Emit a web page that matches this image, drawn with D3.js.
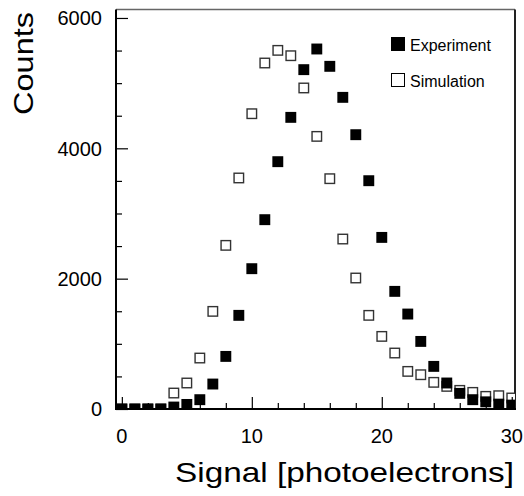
<!DOCTYPE html>
<html>
<head>
<meta charset="utf-8">
<script src="https://cdn.jsdelivr.net/npm/d3@7"></script>
<style>
  body { margin: 0; background: #fff; }
  text { font-family: "Liberation Sans", Arial, sans-serif; fill: #000; }
</style>
</head>
<body>
<svg id="chart"></svg>
<script>
// signal bins 0..30 photoelectrons
const bins = d3.range(0, 31);
const experiment = [0, 0, 0, 0, 30, 70, 143, 383, 807, 1437, 2153, 2905, 3795, 4475, 5207, 5524,
  5258, 4782, 4209, 3503, 2633, 1805, 1457, 1037, 654, 399, 240, 143, 110, 75, 60];
const simulation = [0, 0, 0, 0, 245, 399, 782, 1498, 2511, 3545, 4531, 5309, 5503, 5421, 4926, 4183,
  3534, 2608, 2010, 1437, 1114, 859, 577, 526, 409, 347, 286, 255, 194, 204, 169];
const yMajor = [0, 2000, 4000, 6000];
const xMajor = [0, 10, 20, 30];
const legendLabels = ["Experiment", "Simulation"];

const width = 524, height = 496;
const margin = { top: 9.5, right: 9, bottom: 87, left: 116 };

const svg = d3.select("#chart").attr("width", width).attr("height", height);

const x = d3.scaleLinear().domain([-0.45, 30.25]).range([margin.left, width - margin.right]);
const y = d3.scaleLinear().domain([0, 6130]).range([height - margin.bottom, margin.top]);

const plotW = x.range()[1] - x.range()[0];
const plotH = y.range()[0] - y.range()[1];

svg.append("defs").append("clipPath").attr("id", "clip")
  .append("rect")
  .attr("x", x.range()[0]).attr("y", y.range()[1])
  .attr("width", plotW).attr("height", plotH);

// frame: top and right
svg.append("line")
  .attr("x1", x.range()[0]).attr("x2", x.range()[1])
  .attr("y1", y.range()[1]).attr("y2", y.range()[1])
  .attr("stroke", "#666").attr("stroke-width", 1.5);
svg.append("line")
  .attr("x1", x.range()[1]).attr("x2", x.range()[1])
  .attr("y1", y.range()[1]).attr("y2", y.range()[0])
  .attr("stroke", "#222").attr("stroke-width", 2);

// markers
const size = 9.5;
const marks = svg.append("g").attr("clip-path", "url(#clip)");

marks.selectAll(".sim")
  .data(bins)
  .join("rect")
  .attr("class", "sim")
  .attr("x", (d) => x(d) - size / 2)
  .attr("y", (d) => y(simulation[d]) - size / 2)
  .attr("width", size)
  .attr("height", size)
  .attr("fill", "#fff")
  .attr("stroke", "#333")
  .attr("stroke-width", 1.4);

marks.selectAll(".exp")
  .data(bins)
  .join("rect")
  .attr("class", "exp")
  .attr("x", (d) => x(d) - (size + 1.4) / 2)
  .attr("y", (d) => y(experiment[d]) - (size + 1.4) / 2)
  .attr("width", size + 1.4)
  .attr("height", size + 1.4)
  .attr("fill", "#000");

// y axis, ticks pointing into the plot
const yAxis = d3.axisRight(y)
  .tickValues(d3.range(0, 6001, 500))
  .tickSize(6)
  .tickFormat("");
const yAxisG = svg.append("g")
  .attr("transform", `translate(${x.range()[0]},0)`)
  .call(yAxis);
yAxisG.selectAll(".tick line")
  .attr("x2", (d) => (yMajor.includes(d) ? 12 : 6))
  .attr("stroke-width", 1.2);
yAxisG.select(".domain").remove();

svg.append("g").selectAll("text")
  .data(yMajor)
  .join("text")
  .attr("x", 102)
  .attr("y", (d) => y(d))
  .attr("dy", "0.36em")
  .attr("text-anchor", "end")
  .style("font-size", "20px")
  .text((d) => d);

// x axis, ticks pointing up
const xAxis = d3.axisTop(x)
  .tickValues(d3.range(0, 31, 2))
  .tickSize(6)
  .tickFormat("");
const xAxisG = svg.append("g")
  .attr("transform", `translate(0,${y.range()[0]})`)
  .call(xAxis);
xAxisG.selectAll(".tick line")
  .attr("y2", (d) => (xMajor.includes(d) ? -12 : -6))
  .attr("stroke-width", 1.2);
xAxisG.select(".domain").remove();

svg.append("g").selectAll("text")
  .data(xMajor)
  .join("text")
  .attr("x", (d) => x(d))
  .attr("y", 443)
  .attr("text-anchor", "middle")
  .style("font-size", "20px")
  .text((d) => d);

// axis lines
svg.append("line")
  .attr("x1", x.range()[0]).attr("x2", x.range()[0])
  .attr("y1", y.range()[1]).attr("y2", y.range()[0] + 1)
  .attr("stroke", "#000").attr("stroke-width", 2);
svg.append("line")
  .attr("x1", x.range()[0] - 1).attr("x2", x.range()[1] + 1)
  .attr("y1", y.range()[0]).attr("y2", y.range()[0])
  .attr("stroke", "#000").attr("stroke-width", 2);

// titles (wide glyphs, so stretched to the reference length)
svg.append("text")
  .attr("transform", "translate(33,115) rotate(-90)")
  .attr("textLength", 103)
  .attr("lengthAdjust", "spacingAndGlyphs")
  .style("font-size", "28px")
  .text("Counts");

svg.append("text")
  .attr("x", 175)
  .attr("y", 482)
  .attr("textLength", 339)
  .attr("lengthAdjust", "spacingAndGlyphs")
  .style("font-size", "28px")
  .text("Signal [photoelectrons]");

// legend
const legend = svg.append("g").attr("transform", "translate(391,37)");
const legendItems = legend.selectAll(".legend-item")
  .data(legendLabels)
  .join("g")
  .attr("class", "legend-item")
  .attr("transform", (d, i) => `translate(0,${i * 36})`);

legendItems.append("rect")
  .attr("x", (d, i) => (i === 0 ? 0 : 0.5))
  .attr("y", (d, i) => (i === 0 ? 0 : 0.5))
  .attr("width", (d, i) => (i === 0 ? 14 : 13))
  .attr("height", (d, i) => (i === 0 ? 14 : 13))
  .attr("fill", (d, i) => (i === 0 ? "#000" : "#fff"))
  .attr("stroke", (d, i) => (i === 0 ? "none" : "#000"))
  .attr("stroke-width", 1);

legendItems.append("text")
  .attr("x", 19)
  .attr("y", 13.5)
  .style("font-size", "16px")
  .text((d) => d);
</script>
</body>
</html>
